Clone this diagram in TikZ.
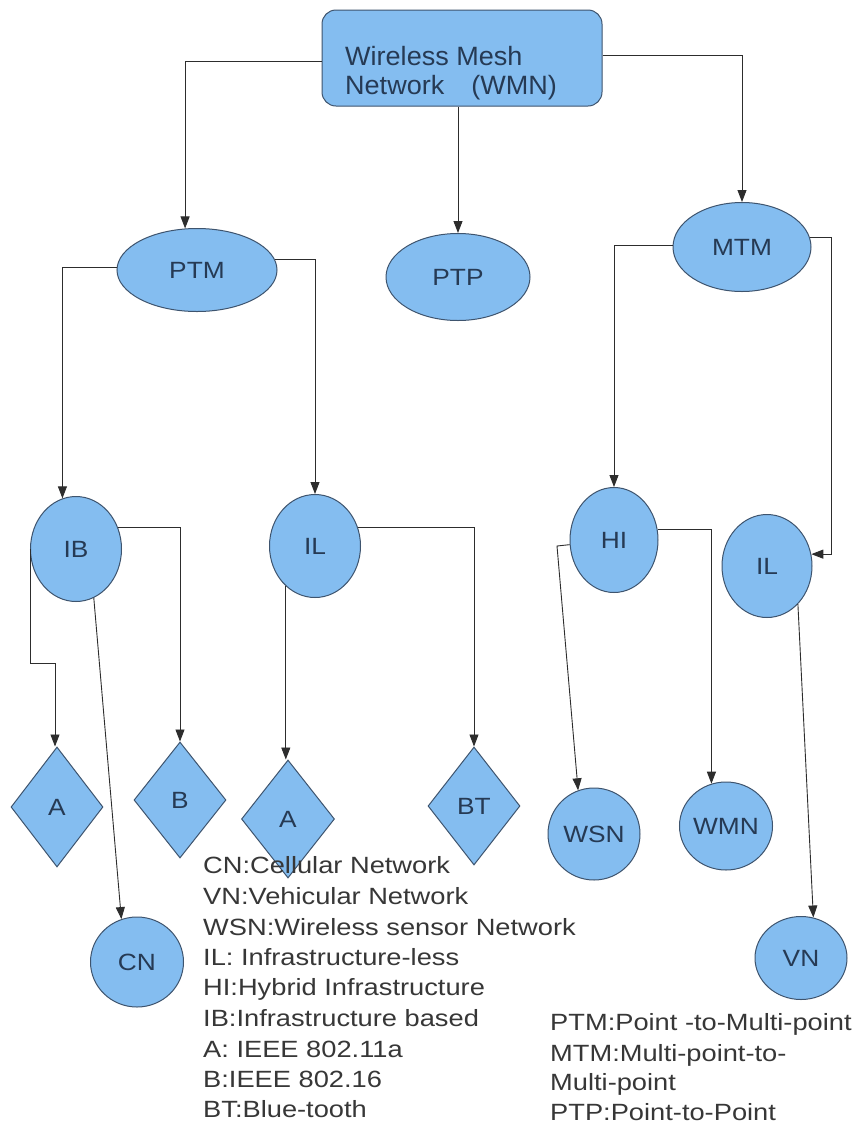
\documentclass[tikz,border=0pt]{standalone}
\usepackage{fontspec}
\setmainfont{Liberation Sans}
\newfontfamily\nodefont[FakeStretch=1.12]{Liberation Sans}
\newfontfamily\legfont[FakeStretch=1.16]{Liberation Sans}
\newfontfamily\topfont[FakeStretch=1.02]{Liberation Sans}
\usetikzlibrary{shapes.geometric,arrows.meta}
\definecolor{nfill}{RGB}{132,189,240}
\definecolor{nline}{RGB}{62,84,110}
\definecolor{ntext}{RGB}{38,58,84}
\definecolor{lline}{RGB}{45,45,45}
\definecolor{ltext}{RGB}{55,55,55}
\begin{document}
\begin{tikzpicture}[x=1pt,y=-1pt,
  nd/.style={draw=nline, fill=nfill, line width=1pt, inner sep=0pt, text=ntext,
    font=\nodefont\fontsize{23.5}{26}\selectfont},
  ell/.style={nd, ellipse},
  dia/.style={nd, diamond},
  arr/.style={draw=lline, line width=0.9pt, -{Triangle[length=12pt,width=9pt]}},
  leg/.style={anchor=base west, inner sep=0pt, text=ltext,
    font=\legfont\fontsize{23.5}{30}\selectfont},
  toptext/.style={anchor=base west, inner sep=0pt, text=ntext,
    font=\topfont\fontsize{26.5}{29}\selectfont},
]
\useasboundingbox[fill=white] (0,0) rectangle (859,1128);

% top node
\node[nd, rectangle, rounded corners=14pt, minimum width=280pt, minimum height=96pt] (wmn) at (462,58) {};
\node[toptext] (wmnt1) at (345,65) {Wireless Mesh};
\node[toptext] (wmnt2) at (345,94) {Network\hspace{27pt}(WMN)};

% level 1
\node[ell, minimum width=160pt, minimum height=83pt] (PTM) at (197,270) {PTM};
\node[ell, minimum width=144pt, minimum height=87pt] (PTP) at (458,277) {PTP};
\node[ell, minimum width=138pt, minimum height=89pt] (MTM) at (742,247) {MTM};

% level 2
\node[ell, minimum width=91pt, minimum height=105pt] (IB) at (76,549) {IB};
\node[ell, minimum width=91pt, minimum height=103pt] (IL) at (315,546) {IL};
\node[ell, minimum width=88pt, minimum height=105pt] (HI) at (614,540) {HI};
\node[ell, minimum width=90pt, minimum height=103pt] (IL2) at (767,566) {IL};

% level 3
\node[dia, minimum width=92pt, minimum height=120pt] (A1) at (57,807) {A};
\node[dia, minimum width=92pt, minimum height=116pt] (B) at (180,800) {B};
\node[dia, minimum width=93pt, minimum height=118pt] (A2) at (288,819) {A};
\node[dia, minimum width=92pt, minimum height=118pt] (BT) at (474,806) {BT};
\node[ell, minimum width=93pt, minimum height=90pt] (CN) at (137,962) {CN};
\node[ell, minimum width=92pt, minimum height=92pt] (WSN) at (594,834) {WSN};
\node[ell, minimum width=92pt, minimum height=88pt] (WMN2) at (726,826) {WMN};
\node[ell, minimum width=92pt, minimum height=83pt] (VN) at (801,958) {VN};

% connectors
\draw[arr] ([yshift=-3pt]wmn.west) -| (PTM.106);
\draw[arr] (wmn.south -| PTP.north) -- (PTP.north);
\draw[arr] ([yshift=3pt]wmn.east) -| (MTM.north);
\draw[arr] ([yshift=3pt]PTM.west) -| (IB.105);
\draw[arr] (PTM.8) -| (IL.north);
\draw[arr] ([yshift=2pt]MTM.west) -| (HI.north);
\coordinate (mtmr) at (831,0);
\draw[arr] (MTM.8) -| (IL2.15 -| mtmr) -- (IL2.15);
\coordinate (jA) at (55,663);
\draw[arr] (IB.west) |- (jA) -- (jA |- A1.north);
\draw[arr] (IB.27) -| (B.north);
\draw[arr] (IB.-70) -- (CN.110);
\draw[arr] (IL.234) -- (IL.234 |- A2.north);
\draw[arr] (IL.23) -| (BT.north);
\coordinate (jW) at (557,546);
\draw[arr] (HI.186) -- (jW) -- (WSN.110);
\draw[arr] (HI.13) -| (WMN2.109);
\draw[arr] (IL2.-51) -- (VN.73);

% legends
\node[leg] (l1) at (203,873) {CN:Cellular Network};
\node[leg] (l2) at (203,904) {VN:Vehicular Network};
\node[leg] (l3) at (203,935) {WSN:Wireless sensor Network};
\node[leg] (l4) at (203,965) {IL: Infrastructure-less};
\node[leg] (l5) at (203,995) {HI:Hybrid Infrastructure};
\node[leg] (l6) at (203,1026) {IB:Infrastructure based};
\node[leg] (l7) at (203,1057) {A: IEEE 802.11a};
\node[leg] (l8) at (203,1087) {B:IEEE 802.16};
\node[leg] (l9) at (203,1117) {BT:Blue-tooth};
\node[leg] (r1) at (550,1030) {PTM:Point -to-Multi-point};
\node[leg] (r2) at (550,1061) {MTM:Multi-point-to-};
\node[leg] (r3) at (550,1090) {Multi-point};
\node[leg] (r4) at (550,1120) {PTP:Point-to-Point};
\end{tikzpicture}
\end{document}
